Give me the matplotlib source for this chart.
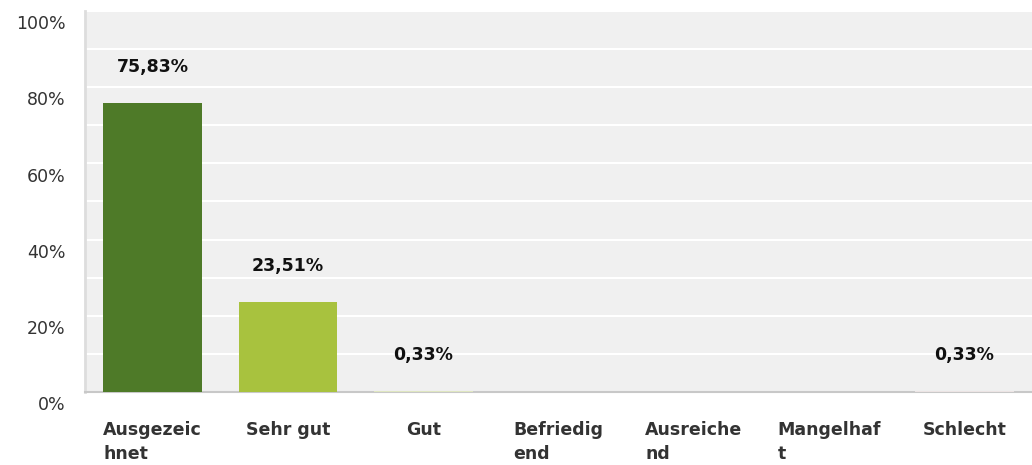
import matplotlib.pyplot as plt
from matplotlib.transforms import ScaledTranslation

# === Data ===
categories = ["Ausgezeic\nhnet", "Sehr gut", "Gut", "Befriedig\nend",
              "Ausreiche\nnd", "Mangelhaf\nt", "Schlecht"]
values = [75.83, 23.51, 0.33, 0.0, 0.0, 0.0, 0.33]
bar_colors = ["#4e7a28", "#a8c23e", "#dfe6c0", "#e8e4c8", "#ebe0cc", "#ece0d8", "#ece4e4"]

plt.rcParams["font.family"] = ["DejaVu Sans"]

fig = plt.figure(figsize=(10.32, 4.65), dpi=100)
ax = fig.add_axes([85 / 1032, 1 - 392 / 465, 1 - 85 / 1032, (392 - 11) / 465])
ax.set_facecolor("#f0f0f0")

x = list(range(len(categories)))
ax.bar(x, values, width=0.73, color=bar_colors, zorder=3)

for xi, v in zip(x, values):
    if v > 0:
        ax.annotate(f"{v:.2f}%".replace(".", ","), (xi, v), xytext=(0, 26),
                    textcoords="offset points", ha="center", va="center",
                    fontsize=12.5, fontweight="bold", color="#111111", zorder=4)

ax.set_xlim(-0.5, len(categories) - 0.5)
ax.set_ylim(0, 100)
ax.set_yticks(range(0, 101, 20))
ax.set_yticks(range(10, 100, 20), minor=True)
ax.set_yticklabels([f"{t}%" for t in range(0, 101, 20)], fontsize=12.5, color="#333333")
ax.grid(axis="y", which="both", color="white", linewidth=1.5, zorder=1)
ax.tick_params(axis="y", which="both", length=0, pad=14)
for lab in ax.get_yticklabels():
    lab.set_transform(lab.get_transform() + ScaledTranslation(0, -8 / 72, fig.dpi_scale_trans))

ax.set_xticks(x)
ax.set_xticklabels(categories, fontsize=12.5, fontweight="bold", color="#333333",
                   multialignment="left", linespacing=1.45)
ax.tick_params(axis="x", length=0, pad=21)

for side in ["top", "right"]:
    ax.spines[side].set_visible(False)
ax.spines["left"].set_color("#dddddd")
ax.spines["left"].set_linewidth(2)
ax.spines["bottom"].set_color("#c8c8c8")
ax.spines["bottom"].set_linewidth(1.5)

fig.savefig("out.png", dpi=100)
